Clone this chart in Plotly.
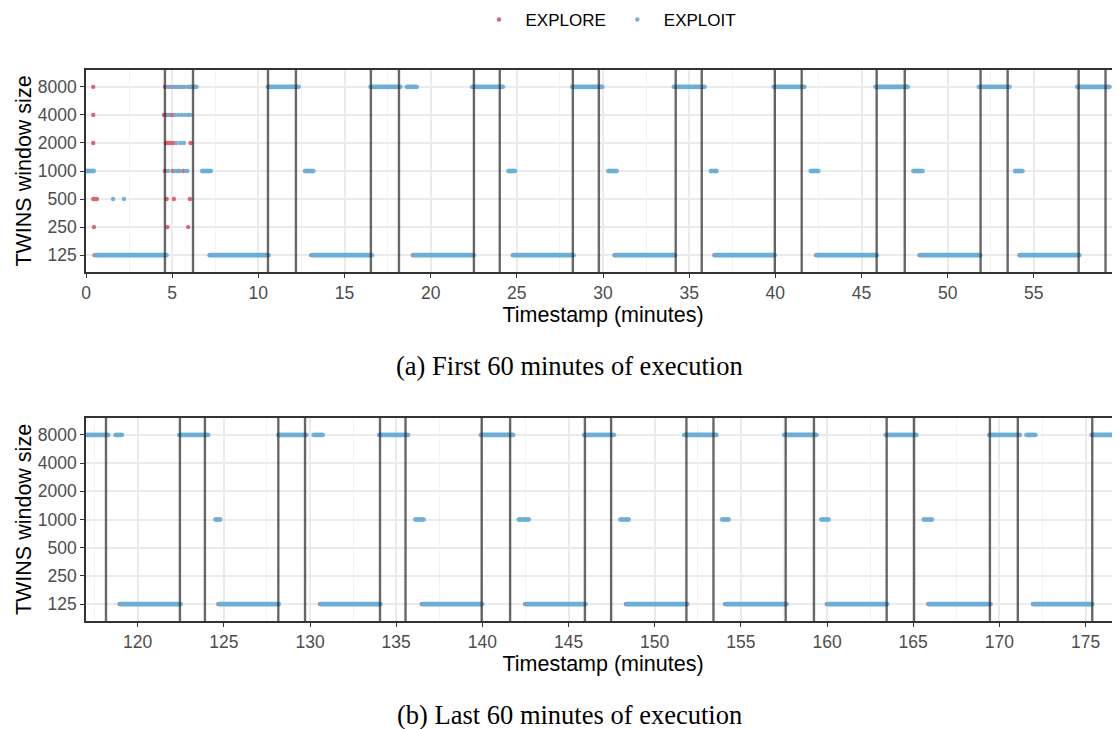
import plotly.graph_objects as go

# ---------------- data ----------------
LEVELS = ["125", "250", "500", "1000", "2000", "4000", "8000"]

# Panel (a): first 60 minutes
a_vlines = [4.58, 6.21, 10.56, 12.18, 16.53, 18.16, 22.51, 24.01, 28.25, 29.76,
            34.22, 35.73, 39.97, 41.53, 45.88, 47.51, 51.91, 53.48, 57.60, 59.16]
# continuous EXPLOIT runs (start, end, window size)
a_run_start = [0.0, 0.56, 6.0, 6.73, 7.2, 10.55, 12.7, 13.1, 16.5, 18.6, 19.0, 22.4,
               24.5, 24.8, 28.2, 30.3, 30.7, 34.1, 36.25, 36.5, 39.9, 42.05, 42.4,
               45.8, 48.0, 48.4, 51.8, 53.9, 54.2, 57.5, 59.7, 59.95]
a_run_end = [0.46, 4.68, 6.42, 7.25, 10.6, 12.35, 13.2, 16.6, 18.25, 19.2, 22.5, 24.2,
             24.9, 28.3, 29.97, 30.8, 34.2, 35.9, 36.6, 39.97, 41.7, 42.5, 45.9,
             47.7, 48.55, 51.9, 53.6, 54.35, 57.65, 59.4, 60.3, 60.3]
a_run_level = ["1000", "125", "8000", "1000", "125", "8000", "1000", "125", "8000", "8000",
               "125", "8000", "1000", "125", "8000", "1000", "125", "8000", "1000", "125",
               "8000", "1000", "125", "8000", "1000", "125", "8000", "1000", "125", "8000",
               "1000", "125"]
# isolated EXPLOIT samples
a_exploit_x = [1.57, 2.2,
               4.72, 4.93, 5.16, 5.36, 5.55, 5.74,
               4.77, 5.16, 5.36, 5.55, 5.74, 5.93, 6.03,
               5.26, 5.49, 5.68,
               4.77, 5.16, 5.26, 5.45, 5.8, 5.88]
a_exploit_y = ["500", "500",
               "8000", "8000", "8000", "8000", "8000", "8000",
               "4000", "4000", "4000", "4000", "4000", "4000", "4000",
               "2000", "2000", "2000",
               "1000", "1000", "1000", "1000", "1000", "1000"]
# EXPLORE samples
a_explore_x = [0.42, 0.42, 0.42, 0.42, 0.52, 0.63, 0.46, 0.5,
               4.58, 4.83, 5.03, 5.26, 5.45, 5.65, 5.93,
               4.52, 4.68, 4.87, 5.03,
               4.64, 4.77, 4.91, 5.06, 6.07,
               4.58, 5.03, 5.36, 5.65,
               4.68, 5.1, 6.03,
               4.72, 5.93,
               7.17, 13.07, 18.97, 24.77, 30.67, 36.47, 42.37, 48.37, 54.17]
a_explore_y = ["8000", "4000", "2000", "500", "500", "500", "250", "125",
               "8000", "8000", "8000", "8000", "8000", "8000", "8000",
               "4000", "4000", "4000", "4000",
               "2000", "2000", "2000", "2000", "2000",
               "1000", "1000", "1000", "1000",
               "500", "500", "500",
               "250", "250",
               "125", "125", "125", "125", "125", "125", "125", "125", "125"]

# Panel (b): last 60 minutes
b_vlines = [118.16, 122.45, 123.90, 128.16, 129.71, 134.06, 135.54, 139.96, 141.61, 145.95,
            147.47, 151.84, 153.41, 157.60, 159.24, 163.46, 165.05, 169.45, 171.07, 175.39]
b_run_start = [116.8, 118.7, 118.97, 122.4, 124.5, 124.7, 128.15, 130.2, 130.6, 134.0,
               136.1, 136.5, 139.9, 142.1, 142.5, 145.9, 148.0, 148.35, 151.7, 153.9,
               154.1, 157.5, 159.66, 160.0, 163.4, 165.6, 165.9, 169.4, 171.56, 171.97,
               175.35]
b_run_end = [118.3, 119.1, 122.5, 124.1, 124.8, 128.2, 129.8, 130.75, 134.1, 135.7,
             136.6, 140.0, 141.8, 142.7, 146.0, 147.65, 148.5, 151.9, 153.6, 154.3,
             157.66, 159.4, 160.1, 163.5, 165.2, 166.1, 169.5, 171.2, 172.1, 175.4,
             177.3]
b_run_level = ["8000", "8000", "125", "8000", "1000", "125", "8000", "8000", "125", "8000",
               "1000", "125", "8000", "1000", "125", "8000", "1000", "125", "8000", "1000",
               "125", "8000", "1000", "125", "8000", "1000", "125", "8000", "8000", "125",
               "8000"]
b_explore_x = [118.95, 124.68, 130.58, 136.48, 142.48, 148.33, 154.08, 159.98, 165.88, 171.95]
b_explore_y = ["125"] * 10

# ---------------- style ----------------
RED = "#DC6473"
BLUE = "#6BAED6"
LINE_W = 4.6
DOT = 4.4

# the page body adds an 8 px margin; size and place the figure to compensate
OFF = 8
W, H = 1120 - OFF, 729 - OFF


def fx(px):
    return (px - OFF) / W


def fy(py):
    return 1 - (py - OFF) / H


def run_xy(starts, ends, levels):
    xs, ys = [], []
    for s, e, lv in zip(starts, ends, levels):
        xs += [s, e, None]
        ys += [lv, lv, None]
    return xs, ys


def end_xy(starts, ends, levels):
    xs, ys = [], []
    for s, e, lv in zip(starts, ends, levels):
        xs += [s, e]
        ys += [lv, lv]
    return xs, ys


fig = go.Figure()

panels = [
    ("x", "y", a_run_start, a_run_end, a_run_level, a_exploit_x, a_exploit_y, a_explore_x, a_explore_y),
    ("x2", "y2", b_run_start, b_run_end, b_run_level, [], [], b_explore_x, b_explore_y),
]
for i, (xa, ya, rs, re_, rl, ex, ey, px, py) in enumerate(panels):
    fig.add_trace(go.Scatter(x=px, y=py, mode="markers", xaxis=xa, yaxis=ya,
                             marker=dict(color=RED, size=DOT, line=dict(width=0)),
                             name="EXPLORE", showlegend=(i == 0), legendrank=1))
    rx, ry = run_xy(rs, re_, rl)
    fig.add_trace(go.Scatter(x=rx, y=ry, mode="lines", xaxis=xa, yaxis=ya,
                             line=dict(color=BLUE, width=LINE_W), showlegend=False,
                             hoverinfo="skip"))
    qx, qy = end_xy(rs, re_, rl)
    fig.add_trace(go.Scatter(x=qx + ex, y=qy + ey, mode="markers", xaxis=xa, yaxis=ya,
                             marker=dict(color=BLUE, size=DOT, opacity=0.92, line=dict(width=0)),
                             name="EXPLOIT", showlegend=(i == 0), legendrank=2))

for xv in a_vlines:
    fig.add_shape(type="line", xref="x", yref="y domain", x0=xv, x1=xv, y0=0, y1=1,
                  line=dict(color="rgba(40,40,40,0.70)", width=2.4), layer="above")
for xv in b_vlines:
    fig.add_shape(type="line", xref="x2", yref="y2 domain", x0=xv, x1=xv, y0=0, y1=1,
                  line=dict(color="rgba(40,40,40,0.70)", width=2.4), layer="above")

TICKFONT = dict(family="Liberation Sans, Arial, sans-serif", size=17.5, color="#4D4D4D")
TITLEFONT = dict(family="Liberation Sans, Arial, sans-serif", size=21.5, color="#000000")

def xaxis_cfg(lo, hi, major, minor, anchor):
    return dict(range=[lo, hi], domain=[fx(86), 1.0], anchor=anchor, automargin=False,
                tickmode="array", tickvals=major, ticktext=[str(v) for v in major],
                showgrid=True, gridcolor="#EBEBEB", gridwidth=1.5,
                minor=dict(tickmode="array", tickvals=minor, showgrid=True,
                           gridcolor="#F3F3F3", gridwidth=0.8, ticks=""),
                showline=True, linecolor="#333333", linewidth=1.6, mirror=True,
                ticks="outside", ticklen=4, tickwidth=1.2, tickcolor="#333333",
                tickfont=TICKFONT, zeroline=False,
                title=dict(text="Timestamp (minutes)", font=TITLEFONT, standoff=2))

def yaxis_cfg(top, bottom, anchor):
    return dict(type="category", categoryorder="array", categoryarray=LEVELS,
                range=[-0.6, 6.6], domain=[fy(bottom), fy(top)], anchor=anchor, automargin=False,
                showgrid=True, gridcolor="#EBEBEB", gridwidth=1.5,
                showline=True, linecolor="#333333", linewidth=1.6, mirror=True,
                ticks="outside", ticklen=4, tickwidth=1.2, tickcolor="#333333",
                tickfont=TICKFONT, zeroline=False,
                title=dict(text="TWINS window size", font=TITLEFONT, standoff=0))

a_major = [0, 5, 10, 15, 20, 25, 30, 35, 40, 45, 50, 55]
a_minor = [v + 2.5 for v in a_major]
b_major = [120, 125, 130, 135, 140, 145, 150, 155, 160, 165, 170, 175]
b_minor = [v - 2.5 for v in b_major] + [177.5]

CAPFONT = dict(family="Liberation Serif, Times New Roman, serif", size=26.5, color="#000000")

fig.update_layout(
    width=W, height=H,
    margin=dict(l=0, r=0, t=0, b=0, autoexpand=False),
    paper_bgcolor="white", plot_bgcolor="white",
    font=dict(family="Liberation Sans, Arial, sans-serif"),
    xaxis=xaxis_cfg(0, 60, a_major, a_minor, "y"),
    yaxis=yaxis_cfg(70, 272, "x"),
    xaxis2=xaxis_cfg(117, 177, b_major, b_minor, "y2"),
    yaxis2=yaxis_cfg(418, 621, "x2"),
    legend=dict(orientation="h", x=fx(607), xanchor="center", y=fy(20), yanchor="middle",
                font=dict(size=17, color="#000000"), itemsizing="trace", itemwidth=43,
                bgcolor="rgba(0,0,0,0)", traceorder="normal"),
    showlegend=True,
    annotations=[
        dict(text="(a) First 60 minutes of execution", xref="paper", yref="paper",
             x=fx(569), y=fy(366), xanchor="center", yanchor="middle", showarrow=False,
             font=CAPFONT),
        dict(text="(b) Last 60 minutes of execution", xref="paper", yref="paper",
             x=fx(569), y=fy(715), xanchor="center", yanchor="middle", showarrow=False,
             font=CAPFONT),
    ],
)

fig.write_html("out.html")
